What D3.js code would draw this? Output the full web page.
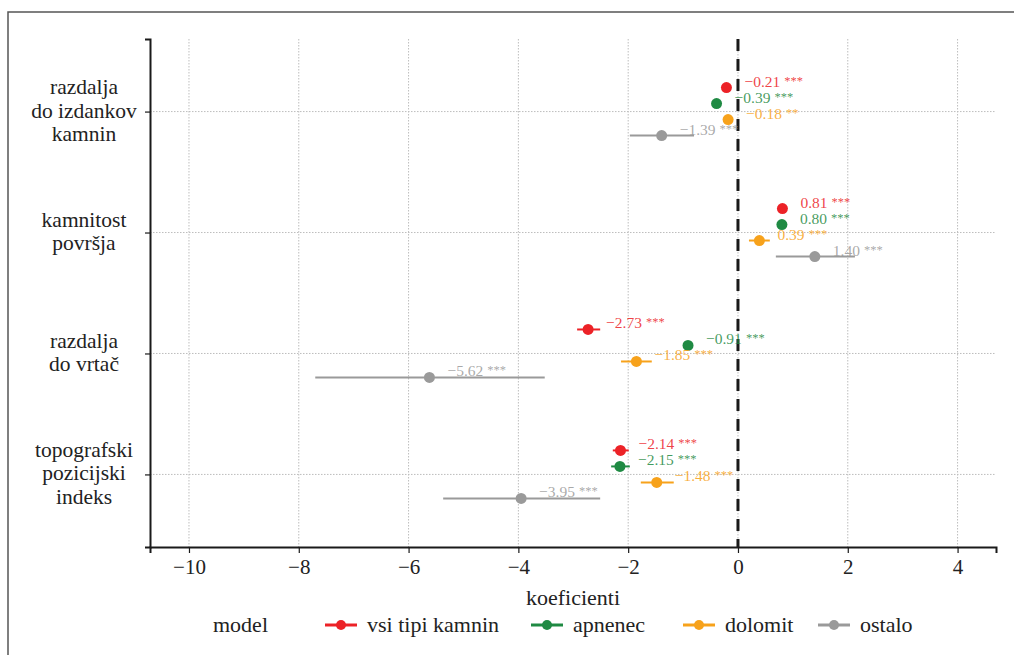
<!DOCTYPE html>
<html><head><meta charset="utf-8">
<script src="https://cdn.jsdelivr.net/npm/d3@7"></script>
<style>body{margin:0;background:#fff}svg{display:block}</style>
</head><body>
<svg id="c" width="1014" height="655" font-family="Liberation Serif, serif"></svg>
<script>
const categories = ["razdalja\ndo izdankov\nkamnin", "kamnitost\npovršja", "razdalja\ndo vrtač", "topografski\npozicijski\nindeks"];
const models = ["vsi tipi kamnin", "apnenec", "dolomit", "ostalo"];
const colors = ["#ec2227", "#1f8a43", "#f7a21b", "#9a9a9a"];
const xTicks = [-10, -8, -6, -4, -2, 0, 2, 4];

const estVsi = [-0.21, 0.81, -2.73, -2.14];
const estApnenec = [-0.39, 0.80, -0.91, -2.15];
const estDolomit = [-0.18, 0.39, -1.85, -1.48];
const estOstalo = [-1.39, 1.40, -5.62, -3.95];

const lowVsi = [-0.27, 0.76, -2.93, -2.28];
const lowApnenec = [-0.45, 0.75, -0.97, -2.31];
const lowDolomit = [-0.26, 0.20, -2.13, -1.77];
const lowOstalo = [-1.97, 0.69, -7.70, -5.37];

const highVsi = [-0.15, 0.86, -2.51, -1.99];
const highApnenec = [-0.33, 0.85, -0.85, -1.97];
const highDolomit = [-0.09, 0.58, -1.57, -1.17];
const highOstalo = [-0.80, 2.13, -3.52, -2.51];

const sigVsi = ["***", "***", "***", "***"];
const sigApnenec = ["***", "***", "***", "***"];
const sigDolomit = ["**", "***", "***", "***"];
const sigOstalo = ["***", "***", "***", "***"];

const est = [estVsi, estApnenec, estDolomit, estOstalo];
const low = [lowVsi, lowApnenec, lowDolomit, lowOstalo];
const high = [highVsi, highApnenec, highDolomit, highOstalo];
const sig = [sigVsi, sigApnenec, sigDolomit, sigOstalo];

const FONT = "Liberation Serif, serif";

const rows = [];
models.forEach((m, mi) => categories.forEach((c, ci) => rows.push({
  model: m, mi, cat: c, est: est[mi][ci], lo: low[mi][ci], hi: high[mi][ci], sig: sig[mi][ci]
})));

const svg = d3.select("#c");
const L = 150, R = 996, T = 39, B = 547;
const x = d3.scaleLinear().domain([-10.71, 4.70]).range([L, R]);
const y = d3.scalePoint().domain(categories).range([T, B]).padding(0.6);
const dodge = d3.scalePoint().domain(models).range([-24, 24]);
const color = d3.scaleOrdinal().domain(models).range(colors);
const fmt = v => (v < 0 ? "\u2212" : "") + Math.abs(v).toFixed(2);

// frame
svg.append("rect").attr("x", 8).attr("y", 12).attr("width", 1020).attr("height", 660)
  .attr("fill", "none").attr("stroke", "#555").attr("stroke-width", 1.5);

// grid
const g = svg.append("g");
g.selectAll(".vg").data(xTicks).join("line")
  .attr("x1", d => x(d)).attr("x2", d => x(d)).attr("y1", T).attr("y2", B)
  .attr("stroke", "#bdbdbd").attr("stroke-width", 1).attr("stroke-dasharray", "1.5 1.5");
g.selectAll(".hg").data(categories).join("line")
  .attr("x1", L).attr("x2", R).attr("y1", d => y(d)).attr("y2", d => y(d))
  .attr("stroke", "#bdbdbd").attr("stroke-width", 1).attr("stroke-dasharray", "1.5 1.5");

// zero line
svg.append("line").attr("x1", x(0)).attr("x2", x(0)).attr("y1", T).attr("y2", B)
  .attr("stroke", "#1a1a1a").attr("stroke-width", 3).attr("stroke-dasharray", "12 8");

// axes
const xAxis = svg.append("g").attr("transform", `translate(0,${B})`)
  .call(d3.axisBottom(x).tickValues(xTicks).tickSize(6).tickPadding(6).tickFormat(d => d < 0 ? "\u2212" + Math.abs(d) : d));
xAxis.attr("font-family", FONT);
xAxis.select(".domain").attr("stroke", "#1a1a1a").attr("stroke-width", 2);
xAxis.selectAll(".tick line").attr("stroke", "#1a1a1a").attr("stroke-width", 1.2);
xAxis.selectAll(".tick text").attr("font-size", 21).attr("font-family", FONT).attr("fill", "#222");

const yAxis = svg.append("g").attr("transform", `translate(${L},0)`)
  .call(d3.axisLeft(y).tickSize(5).tickFormat(""));
yAxis.select(".domain").attr("stroke", "#1a1a1a").attr("stroke-width", 2);
yAxis.selectAll(".tick line").attr("stroke", "#1a1a1a").attr("stroke-width", 1.2);

// y labels
categories.forEach(c => {
  const lines = c.split("\n");
  const t = svg.append("text").attr("text-anchor", "middle").attr("font-size", 21.5)
    .attr("font-family", FONT).attr("fill", "#222");
  lines.forEach((ln, i) => {
    t.append("tspan").attr("x", 84).attr("y", y(c) + (i - (lines.length - 1) / 2) * 23.5 + 6).text(ln);
  });
});

// CI lines
const marks = svg.append("g");
marks.selectAll(".ci").data(rows).join("line")
  .attr("x1", d => x(d.lo)).attr("x2", d => x(d.hi))
  .attr("y1", d => y(d.cat) + dodge(d.model)).attr("y2", d => y(d.cat) + dodge(d.model))
  .attr("stroke", d => color(d.model)).attr("stroke-width", 2);
marks.selectAll(".pt").data(rows).join("circle")
  .attr("cx", d => x(d.est)).attr("cy", d => y(d.cat) + dodge(d.model)).attr("r", 5.5)
  .attr("fill", d => color(d.model));

// labels
const lab = marks.selectAll(".lab").data(rows).join("text")
  .attr("x", d => x(d.est) + 18).attr("y", d => y(d.cat) + dodge(d.model) - 1)
  .attr("font-family", FONT)
  .attr("font-size", 15.5).attr("fill", d => color(d.model)).attr("fill-opacity", 0.85);
lab.append("tspan").text(d => fmt(d.est));
lab.append("tspan").attr("font-size", 12.5).attr("dx", 4).attr("dy", -2).text(d => d.sig);

// axis title
svg.append("text").attr("x", (L + R) / 2).attr("y", 605).attr("text-anchor", "middle")
  .attr("font-family", FONT).attr("font-size", 22).attr("fill", "#222").text("koeficienti");

// legend
const ly = 625;
svg.append("text").attr("x", 213).attr("y", ly + 7).attr("font-family", FONT)
  .attr("font-size", 22).attr("fill", "#222").text("model");
const legX = [325, 531, 683, 818];
models.forEach((m, i) => {
  const lg = svg.append("g").attr("transform", `translate(${legX[i]},${ly})`);
  lg.append("line").attr("x1", 0).attr("x2", 32).attr("stroke", color(m)).attr("stroke-width", 3);
  lg.append("circle").attr("cx", 16).attr("r", 5).attr("fill", color(m));
  lg.append("text").attr("x", 42).attr("y", 7).attr("font-family", FONT)
    .attr("font-size", 22).attr("fill", "#222").text(m);
});
</script>
</body></html>
